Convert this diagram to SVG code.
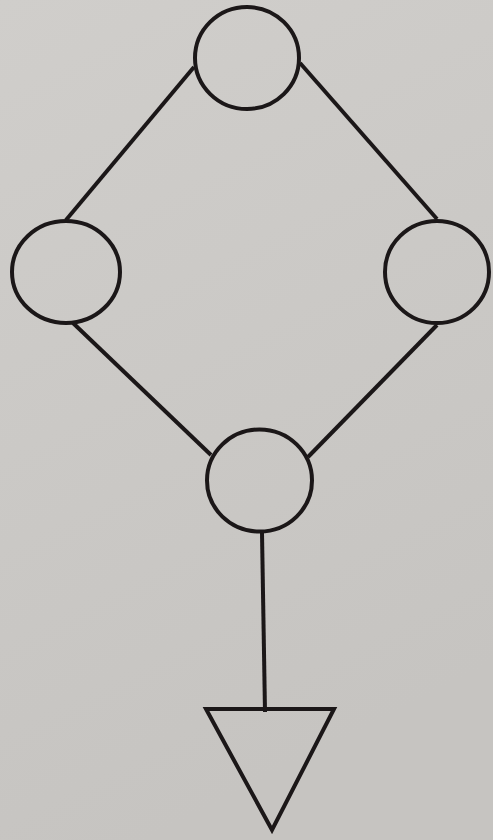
<svg xmlns="http://www.w3.org/2000/svg" width="493" height="840" viewBox="0 0 493 840">
  <defs>
    <linearGradient id="paper" x1="0" y1="0" x2="0.3" y2="1">
      <stop offset="0" stop-color="#d0cecb"/>
      <stop offset="0.5" stop-color="#cbc9c6"/>
      <stop offset="1" stop-color="#c6c4c1"/>
    </linearGradient>
  </defs>
  <style>
    .edge { stroke: #1b1718; stroke-width: 4; fill: none; stroke-linecap: butt; }
    .node { stroke: #1b1718; stroke-width: 4; fill: none; }
  </style>
  <rect x="0" y="0" width="493" height="840" fill="url(#paper)"/>
  <g id="connectors">
    <line class="edge" x1="194" y1="67" x2="66" y2="220"/>
    <line class="edge" x1="300" y1="63" x2="437" y2="219"/>
    <line class="edge" x1="73" y1="323" x2="211" y2="455"/>
    <line class="edge" x1="437" y1="325" x2="308" y2="457"/>
    <line class="edge" x1="262" y1="533" x2="265" y2="712"/>
  </g>
  <g id="node-top">
    <ellipse class="node" cx="247" cy="58" rx="52" ry="51"/>
  </g>
  <g id="node-left">
    <ellipse class="node" cx="66" cy="272" rx="54" ry="51"/>
  </g>
  <g id="node-right">
    <ellipse class="node" cx="437" cy="272" rx="52" ry="51"/>
  </g>
  <g id="node-bottom">
    <ellipse class="node" cx="259.5" cy="480.5" rx="52.5" ry="51"/>
  </g>
  <g id="node-triangle">
    <polygon class="node" points="206,709 334,709 272,830" stroke-linejoin="miter"/>
  </g>
</svg>
